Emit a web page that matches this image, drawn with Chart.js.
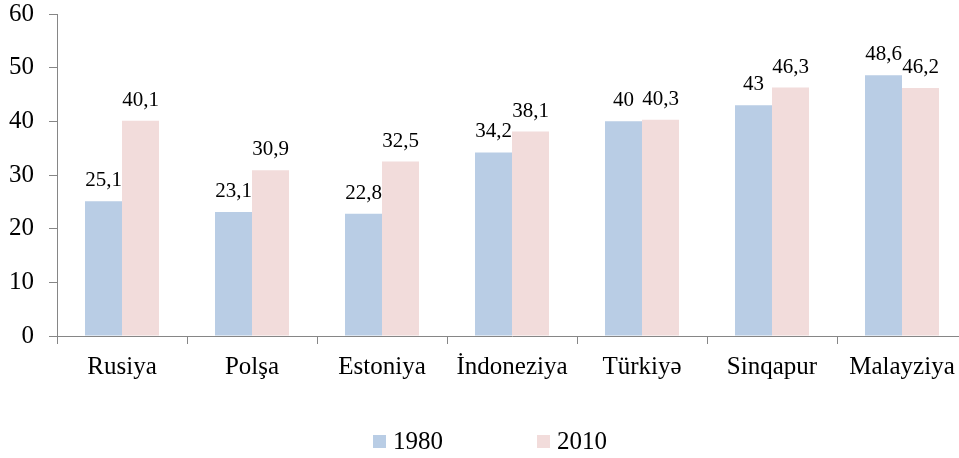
<!DOCTYPE html>
<html>
<head>
<meta charset="utf-8">
<script src="https://cdn.jsdelivr.net/npm/chart.js@4.4.1/dist/chart.umd.min.js"></script>
<style>
html, body { margin: 0; padding: 0; overflow: hidden; background: #fff; }
#wrap { position: absolute; left: 0; top: 0; width: 967px; height: 458px; }
</style>
</head>
<body>
<div id="wrap"><canvas id="c"></canvas></div>
<script>
const categories = ["Rusiya", "Polşa", "Estoniya", "İndoneziya", "Türkiyə", "Sinqapur", "Malayziya"];
const seriesNames = ["1980", "2010"];
const values1980 = [25.1, 23.1, 22.8, 34.2, 40, 43, 48.6];
const values2010 = [40.1, 30.9, 32.5, 38.1, 40.3, 46.3, 46.2];
const yTicks = [0, 10, 20, 30, 40, 50, 60];

const colors = ["#B9CDE5", "#F2DCDB"];
const serif = "'Liberation Serif', 'Times New Roman', serif";
const axisGray = "#868686";

const fmt = v => String(v).replace('.', ',');

const valueLabels = {
  id: 'valueLabels',
  afterDatasetsDraw(chart) {
    const ctx = chart.ctx;
    ctx.save();
    ctx.font = "21px " + serif;
    ctx.fillStyle = "#000";
    ctx.textAlign = "center";
    ctx.textBaseline = "alphabetic";
    chart.data.datasets.forEach((ds, i) => {
      const meta = chart.getDatasetMeta(i);
      meta.data.forEach((bar, j) => {
        ctx.fillText(fmt(ds.data[j]), bar.x, bar.y - 15);
      });
    });
    ctx.restore();
  }
};

const customLegend = {
  id: 'customLegend',
  afterDraw(chart) {
    const ctx = chart.ctx;
    ctx.save();
    ctx.font = "25px " + serif;
    ctx.textBaseline = "alphabetic";
    ctx.textAlign = "left";
    const starts = [373, 537];
    chart.data.datasets.forEach((ds, i) => {
      const x = starts[i];
      ctx.fillStyle = ds.backgroundColor;
      ctx.fillRect(x, 435, 13, 13);
      ctx.fillStyle = "#000";
      ctx.fillText(ds.label, x + 20, 449);
    });
    ctx.restore();
  }
};

new Chart(document.getElementById('c'), {
  type: 'bar',
  data: {
    labels: categories,
    datasets: [
      { label: seriesNames[0], data: values1980, backgroundColor: colors[0] },
      { label: seriesNames[1], data: values2010, backgroundColor: colors[1] }
    ]
  },
  options: {
    responsive: true,
    maintainAspectRatio: false,
    animation: false,
    devicePixelRatio: 1,
    layout: { padding: { top: 14, left: 0, right: 0, bottom: 0 } },
    datasets: { bar: { categoryPercentage: 74 / 130, barPercentage: 1.0 } },
    plugins: {
      legend: { display: false },
      tooltip: { enabled: false }
    },
    scales: {
      x: {
        offset: true,
        grid: { display: true, offset: true, drawOnChartArea: false, drawTicks: true, tickLength: 8, color: axisGray, lineWidth: 1 },
        border: { display: true, color: axisGray, width: 1 },
        ticks: { color: "#000", font: { family: serif, size: 25, lineHeight: 1 }, padding: 11, maxRotation: 0, autoSkip: false },
        afterFit(scale) { scale.height = 458 - 336; scale.paddingLeft = 0; scale.paddingRight = 0; }
      },
      y: {
        min: 0, max: 60,
        afterBuildTicks(scale) { scale.ticks = yTicks.map(v => ({ value: v })); },
        grid: { display: true, drawOnChartArea: false, drawTicks: true, tickLength: 8, color: axisGray, lineWidth: 1 },
        border: { display: true, color: axisGray, width: 1 },
        ticks: { color: "#000", font: { family: serif, size: 25, lineHeight: 1 }, padding: 15 },
        afterFit(scale) { scale.width = 57; scale.paddingTop = 0; scale.paddingBottom = 0; }
      }
    }
  },
  plugins: [valueLabels, customLegend]
});
</script>
</body>
</html>
